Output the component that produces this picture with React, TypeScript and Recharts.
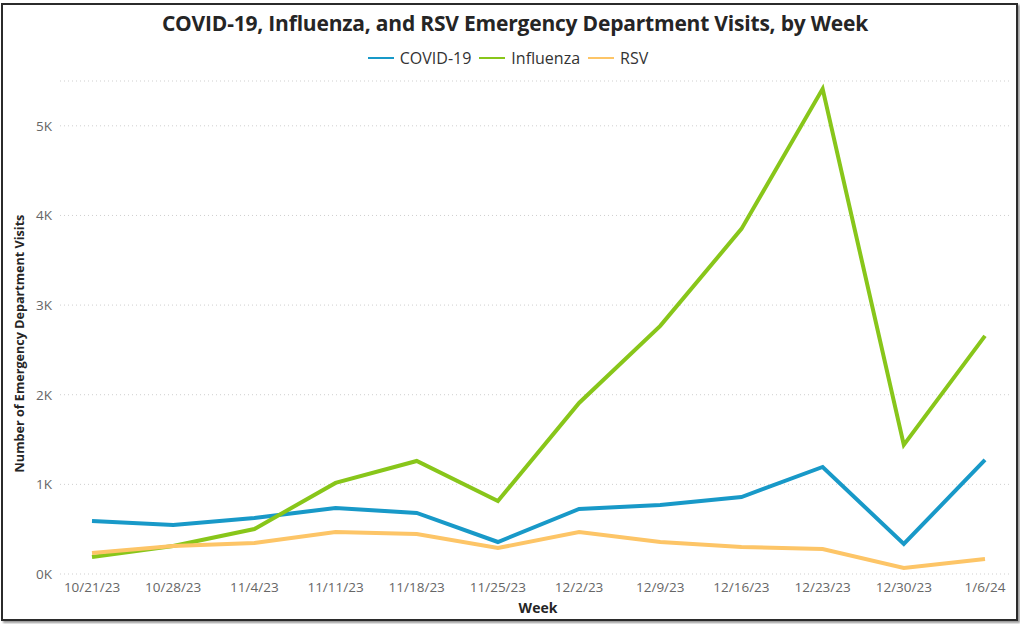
import * as React from "react";
import {
  LineChart,
  Line,
  XAxis,
  YAxis,
  CartesianGrid,
  Legend,
} from "recharts";

const weeks = [
  "10/21/23",
  "10/28/23",
  "11/4/23",
  "11/11/23",
  "11/18/23",
  "11/25/23",
  "12/2/23",
  "12/9/23",
  "12/16/23",
  "12/23/23",
  "12/30/23",
  "1/6/24",
];

const covid = [592, 547, 625, 737, 681, 357, 725, 770, 859, 1194, 335, 1272];
const influenza = [190, 312, 502, 1016, 1261, 815, 1908, 2768, 3850, 5413, 1440, 2656];
const rsv = [234, 312, 346, 469, 446, 290, 469, 357, 301, 279, 67, 167];

const yTicks = [0, 1000, 2000, 3000, 4000, 5000];

const data = weeks.map((week, i) => ({
  week,
  covid: covid[i],
  influenza: influenza[i],
  rsv: rsv[i],
}));

const font = "'Open Sans', 'Segoe UI', sans-serif";

// legend with thin line keys like the original
function LegendContent(props: any) {
  const items = props.payload || [];
  return (
    <div
      style={{
        display: "flex",
        justifyContent: "center",
        alignItems: "center",
        fontSize: 16,
        fontFamily: font,
        color: "#333",
        paddingLeft: 4,
      }}
    >
      {items.map((it: any) => (
        <span
          key={it.value}
          style={{ display: "flex", alignItems: "center", marginRight: 8 }}
        >
          <span
            style={{
              display: "inline-block",
              width: 26,
              height: 2,
              background: it.color,
              marginRight: 6,
            }}
          />
          {it.value}
        </span>
      ))}
    </div>
  );
}

export default function App() {
  return (
    <div
      style={{
        position: "absolute",
        left: 0,
        top: 0,
        width: 1020,
        height: 624,
        background: "#fff",
        fontFamily: font,
      }}
    >
      <div
        style={{
          position: "absolute",
          left: 1,
          top: 3,
          width: 1013,
          height: 614,
          border: "2px solid #2b2b2b",
          boxShadow: "2px 2px 2px #999",
        }}
      />
      <div
        style={{
          position: "absolute",
          left: 0,
          top: 9,
          width: 1030,
          textAlign: "center",
          fontSize: 21,
          fontWeight: 700,
          color: "#252525",
          letterSpacing: -0.2,
        }}
      >
        COVID-19, Influenza, and RSV Emergency Department Visits, by Week
      </div>
      <div style={{ position: "absolute", left: 0, top: 0 }}>
        <LineChart
          width={1020}
          height={624}
          data={data}
          margin={{ top: 58, right: 10, bottom: 20, left: 15 }}
        >
          <CartesianGrid
            vertical={false}
            stroke="#cfcfcf"
            strokeDasharray="1 3"
          />
          <XAxis
            dataKey="week"
            axisLine={false}
            tickLine={false}
            padding={{ left: 32, right: 25 }}
            interval={0}
            height={30}
            tick={{ fill: "#666", fontSize: 13.5, fontFamily: font }}
            label={{
              value: "Week",
              position: "insideBottom",
              offset: -9,
              dx: 3,
              fill: "#252525",
              fontSize: 14,
              fontWeight: 700,
              fontFamily: font,
            }}
          />
          <YAxis
            domain={[0, 5500]}
            ticks={yTicks}
            axisLine={false}
            tickLine={false}
            width={45}
            tickFormatter={(v: number) => `${v / 1000}K`}
            tick={{ fill: "#666", fontSize: 13.5, fontFamily: font }}
            label={{
              value: "Number of Emergency Department Visits",
              angle: -90,
              position: "insideLeft",
              offset: 0,
              dx: 5,
              dy: 16,
              fill: "#252525",
              fontSize: 12.6,
              fontWeight: 700,
              fontFamily: font,
              style: { textAnchor: "middle" },
            }}
          />
          <Legend
            verticalAlign="top"
            align="center"
            height={23}
            content={LegendContent}
            wrapperStyle={{ top: 47, left: 0, width: 1020 }}
          />
          <Line
            name="COVID-19"
            dataKey="covid"
            stroke="#1899c8"
            strokeWidth={4}
            dot={false}
            isAnimationActive={false}
          />
          <Line
            name="Influenza"
            dataKey="influenza"
            stroke="#88c61a"
            strokeWidth={4}
            dot={false}
            isAnimationActive={false}
          />
          <Line
            name="RSV"
            dataKey="rsv"
            stroke="#fdc567"
            strokeWidth={4}
            dot={false}
            isAnimationActive={false}
          />
        </LineChart>
      </div>
    </div>
  );
}
